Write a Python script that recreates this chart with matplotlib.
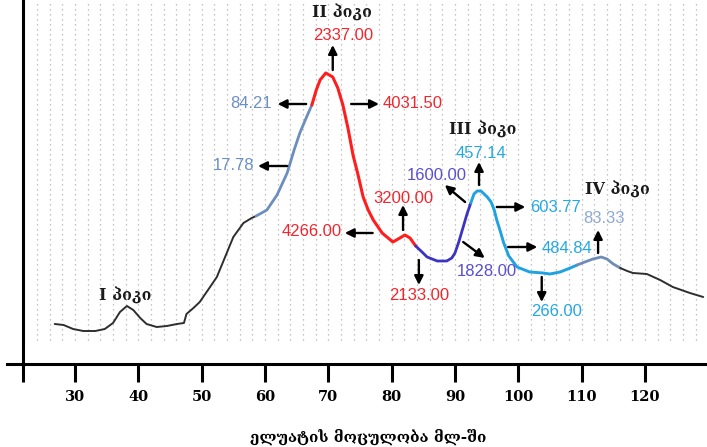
import numpy as np
import matplotlib
matplotlib.use("Agg")
import matplotlib.pyplot as plt

# elution profile, split into coloured fractions (ml, optical density)
x_pre = [26.8, 28.2, 29.7, 31.3, 33.2, 34.7, 36.0, 37.1, 38.2, 39.2, 40.3, 41.3, 42.9,
         44.5, 46.1, 47.2, 47.6, 48.7, 49.7, 51.0, 52.4, 53.7, 55.0, 56.6, 57.9, 58.6]
y_pre = [0.40, 0.39, 0.35, 0.33, 0.33, 0.35, 0.41, 0.52, 0.58, 0.54, 0.46, 0.40, 0.37,
         0.38, 0.40, 0.41, 0.50, 0.56, 0.62, 0.74, 0.87, 1.07, 1.27, 1.41, 1.46, 1.48]

x_rise = [58.6, 60.3, 61.9, 63.5, 64.6, 65.5, 66.5, 67.4]
y_rise = [1.48, 1.54, 1.69, 1.91, 2.14, 2.31, 2.46, 2.59]

x_peak2 = [67.4, 68.1, 68.7, 69.6, 70.7, 71.5, 72.3, 73.1, 73.9, 74.7, 75.5, 76.3, 77.1,
           78.5, 80.2, 81.3, 82.1, 82.9, 83.8]
y_peak2 = [2.59, 2.74, 2.84, 2.91, 2.87, 2.76, 2.59, 2.36, 2.09, 1.89, 1.67, 1.54, 1.44,
           1.31, 1.22, 1.26, 1.29, 1.26, 1.18]

x_valley = [83.8, 84.8, 85.6, 87.2, 88.7, 89.5, 90.0, 90.6, 91.3, 91.9, 92.5]
y_valley = [1.18, 1.12, 1.07, 1.03, 1.03, 1.06, 1.11, 1.22, 1.37, 1.50, 1.61]

x_peak3 = [92.5, 93.0, 93.5, 94.1, 95.1, 95.7, 96.2, 96.6, 97.1, 97.7, 98.5, 99.8, 101.8,
           103.9, 105.0, 106.6, 108.2, 109.3]
y_peak3 = [1.61, 1.70, 1.73, 1.73, 1.67, 1.62, 1.54, 1.44, 1.34, 1.21, 1.08, 0.97, 0.92,
           0.91, 0.90, 0.92, 0.96, 0.99]

x_peak4 = [109.3, 110.5, 111.8, 113.1, 114.0, 115.0, 116.1]
y_peak4 = [0.99, 1.02, 1.05, 1.07, 1.05, 1.00, 0.96]

x_tail = [116.1, 117.2, 118.1, 120.3, 122.4, 124.4, 127.1, 129.2]
y_tail = [0.96, 0.93, 0.91, 0.90, 0.84, 0.77, 0.71, 0.67]

xticks = [30, 40, 50, 60, 70, 80, 90, 100, 110, 120]

# (text, colour, arrow tail, arrow head, text centre)
labels = [
    ("2337.00", "#f2262d", (70.7, 2.94), (70.7, 3.19), (72.3, 3.29)),
    ("84.21", "#6b8fc8", (66.5, 2.60), (62.0, 2.60), (57.8, 2.61)),
    ("4031.50", "#f2262d", (73.6, 2.60), (78.0, 2.60), (83.3, 2.61)),
    ("17.78", "#6b8fc8", (63.5, 1.98), (58.9, 1.98), (55.0, 1.98)),
    ("4266.00", "#f2262d", (77.0, 1.31), (72.6, 1.31), (67.3, 1.33)),
    ("3200.00", "#f2262d", (81.8, 1.34), (81.8, 1.59), (81.8, 1.66)),
    ("2133.00", "#f2262d", (84.3, 1.04), (84.3, 0.79), (84.3, 0.68)),
    ("1600.00", "#5a4fd0", (91.6, 1.62), (88.4, 1.79), (87.2, 1.89)),
    ("1828.00", "#5a4fd0", (91.3, 1.22), (94.7, 1.06), (95.0, 0.92)),
    ("457.14", "#24a8e4", (93.8, 1.79), (93.8, 2.02), (94.1, 2.11)),
    ("603.77", "#24a8e4", (96.6, 1.57), (101.1, 1.57), (105.8, 1.57)),
    ("484.84", "#24a8e4", (98.4, 1.17), (103.0, 1.17), (107.7, 1.16)),
    ("266.00", "#24a8e4", (103.7, 0.87), (103.7, 0.62), (106.1, 0.53)),
    ("83.33", "#8fa9d4", (112.6, 1.11), (112.6, 1.34), (113.5, 1.46)),
]

peaks = [
    ("I პიკი", 38.0, 0.68),
    ("II პიკი", 72.2, 3.51),
    ("III პიკი", 94.4, 2.34),
    ("IV პიკი", 115.6, 1.74),
]

fig = plt.figure(figsize=(7.07, 4.47), dpi=100)
ax = fig.add_axes([7 / 707, 83 / 447, 700 / 707, 364 / 447])
ax.set_xlim(19.26, 129.8)
ax.set_ylim(0, 3.64)

# faint dotted rulings of the recorder paper
ax.vlines(np.arange(22, 130, 2.0), 0.24, 3.64, colors="#b0b0b0",
          linestyles=(0, (1, 3)), linewidth=0.9, zorder=0)

line_kw = dict(solid_joinstyle="round", solid_capstyle="round")
ax.plot(x_pre, y_pre, color="#2e2e2e", lw=1.4, **line_kw)
ax.plot(x_rise, y_rise, color="#6c8ebf", lw=2.0, **line_kw)
ax.plot(x_peak2, y_peak2, color="#ff1e1e", lw=2.2, **line_kw)
ax.plot(x_valley, y_valley, color="#3a34c0", lw=2.0, **line_kw)
ax.plot(x_peak3, y_peak3, color="#1ea2e2", lw=2.1, **line_kw)
ax.plot(x_peak4, y_peak4, color="#6f8bb8", lw=2.0, **line_kw)
ax.plot(x_tail, y_tail, color="#2e2e2e", lw=1.4, **line_kw)

for text, col, tail, head, pos in labels:
    ax.annotate("", xy=head, xytext=tail,
                arrowprops=dict(arrowstyle="-|>", color="black", lw=1.7,
                                mutation_scale=13, shrinkA=0, shrinkB=0))
    ax.text(pos[0], pos[1], text, color=col, fontsize=12, family="Liberation Sans",
            ha="center", va="center")

for text, px, py in peaks:
    ax.text(px, py, text, fontsize=11.5, family="DejaVu Serif", fontweight="bold",
            ha="center", va="center", color="#1a1a1a")

# axes: thick left rule and bottom rule, no y ticks
for side in ("top", "right"):
    ax.spines[side].set_visible(False)
ax.spines["left"].set_position(("data", 21.8))
ax.spines["left"].set_linewidth(2.2)
ax.spines["bottom"].set_linewidth(2.2)
ax.set_yticks([])
ax.set_xticks([21.8] + xticks)
ax.set_xticklabels([""] + [str(t) for t in xticks])
ax.tick_params(axis="x", direction="out", length=13, width=2.2, pad=6,
               labelsize=10.5)
for lab in ax.get_xticklabels():
    lab.set_family("DejaVu Serif")
    lab.set_fontweight("bold")

fig.text(368 / 707, 1 - 437 / 447, "ელუატის მოცულობა მლ-ში", fontsize=11,
         family="DejaVu Serif", fontweight="bold", ha="center", va="center")

fig.savefig("out.png", dpi=100)
